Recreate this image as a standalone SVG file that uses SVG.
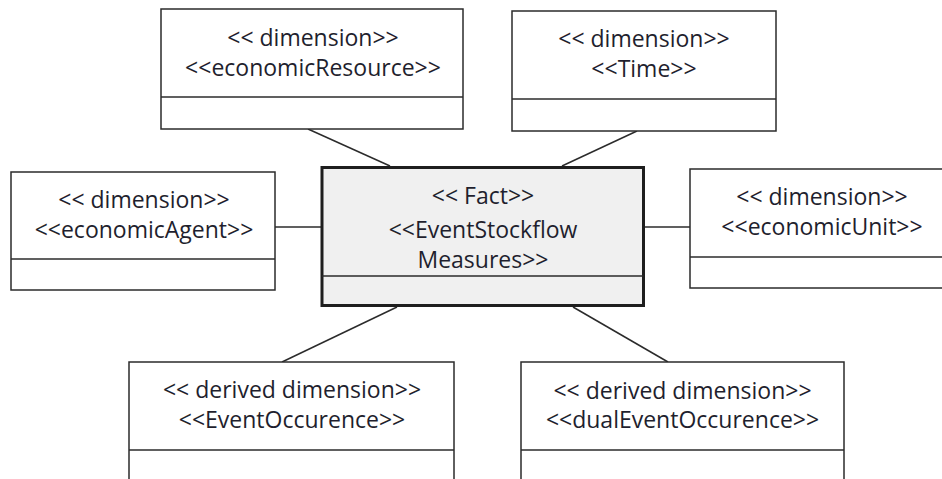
<svg xmlns="http://www.w3.org/2000/svg" width="942" height="479" viewBox="0 0 942 479">
  <style>
    .box { fill: #ffffff; stroke: #2b2b2b; stroke-width: 1.5; }
    .fact { fill: #f0f0f0; stroke: #1e1e1e; stroke-width: 3; }
    .div { stroke: #2b2b2b; stroke-width: 1.5; }
    .lbl { font-family: "Open Sans", "Noto Sans", "DejaVu Sans", sans-serif; font-size: 23px; fill: #1f1f2e; text-anchor: middle; }
    .conn line { stroke: #2b2b2b; stroke-width: 1.5; }
  </style>
  <rect width="942" height="479" fill="#ffffff"/>

  <!-- connectors from the fact table to each dimension -->
  <g id="connectors" class="conn">
    <line x1="308" y1="129" x2="390" y2="166"/>
    <line x1="637" y1="131" x2="562" y2="166"/>
    <line x1="275" y1="227" x2="321" y2="227"/>
    <line x1="645" y1="227" x2="690" y2="227"/>
    <line x1="282" y1="362" x2="397" y2="307"/>
    <line x1="573" y1="307" x2="668" y2="362"/>
  </g>

  <g id="economicResource">
    <rect class="box" x="161" y="9" width="302" height="120"/>
    <line class="div" x1="161" y1="97" x2="463" y2="97"/>
    <text class="lbl" x="313" y="46">&lt;&lt; dimension&gt;&gt;</text>
    <text class="lbl" x="313" y="76">&lt;&lt;economicResource&gt;&gt;</text>
  </g>

  <g id="time">
    <rect class="box" x="512" y="11" width="264" height="120"/>
    <line class="div" x1="512" y1="99" x2="776" y2="99"/>
    <text class="lbl" x="644" y="47">&lt;&lt; dimension&gt;&gt;</text>
    <text class="lbl" x="644" y="77">&lt;&lt;Time&gt;&gt;</text>
  </g>

  <g id="economicAgent">
    <rect class="box" x="11" y="172" width="264" height="118"/>
    <line class="div" x1="11" y1="259" x2="275" y2="259"/>
    <text class="lbl" x="144" y="208">&lt;&lt; dimension&gt;&gt;</text>
    <text class="lbl" x="144" y="238">&lt;&lt;economicAgent&gt;&gt;</text>
  </g>

  <g id="eventStockflowMeasures">
    <rect class="fact" x="322" y="167.5" width="321.5" height="138"/>
    <line class="div" x1="322" y1="276" x2="643.5" y2="276"/>
    <text class="lbl" x="483" y="204">&lt;&lt; Fact&gt;&gt;</text>
    <text class="lbl" x="483" y="238">&lt;&lt;EventStockflow</text>
    <text class="lbl" x="483" y="268">Measures&gt;&gt;</text>
  </g>

  <g id="economicUnit">
    <rect class="box" x="690" y="169" width="270" height="119"/>
    <line class="div" x1="690" y1="257" x2="960" y2="257"/>
    <text class="lbl" x="822" y="205">&lt;&lt; dimension&gt;&gt;</text>
    <text class="lbl" x="822" y="235">&lt;&lt;economicUnit&gt;&gt;</text>
  </g>

  <g id="eventOccurence">
    <rect class="box" x="129" y="362" width="325" height="140"/>
    <line class="div" x1="129" y1="450" x2="454" y2="450"/>
    <text class="lbl" x="292" y="398">&lt;&lt; derived dimension&gt;&gt;</text>
    <text class="lbl" x="292" y="428">&lt;&lt;EventOccurence&gt;&gt;</text>
  </g>

  <g id="dualEventOccurence">
    <rect class="box" x="521" y="362" width="323" height="140"/>
    <line class="div" x1="521" y1="450" x2="844" y2="450"/>
    <text class="lbl" x="682.5" y="399">&lt;&lt; derived dimension&gt;&gt;</text>
    <text class="lbl" x="682.5" y="428">&lt;&lt;dualEventOccurence&gt;&gt;</text>
  </g>
</svg>
